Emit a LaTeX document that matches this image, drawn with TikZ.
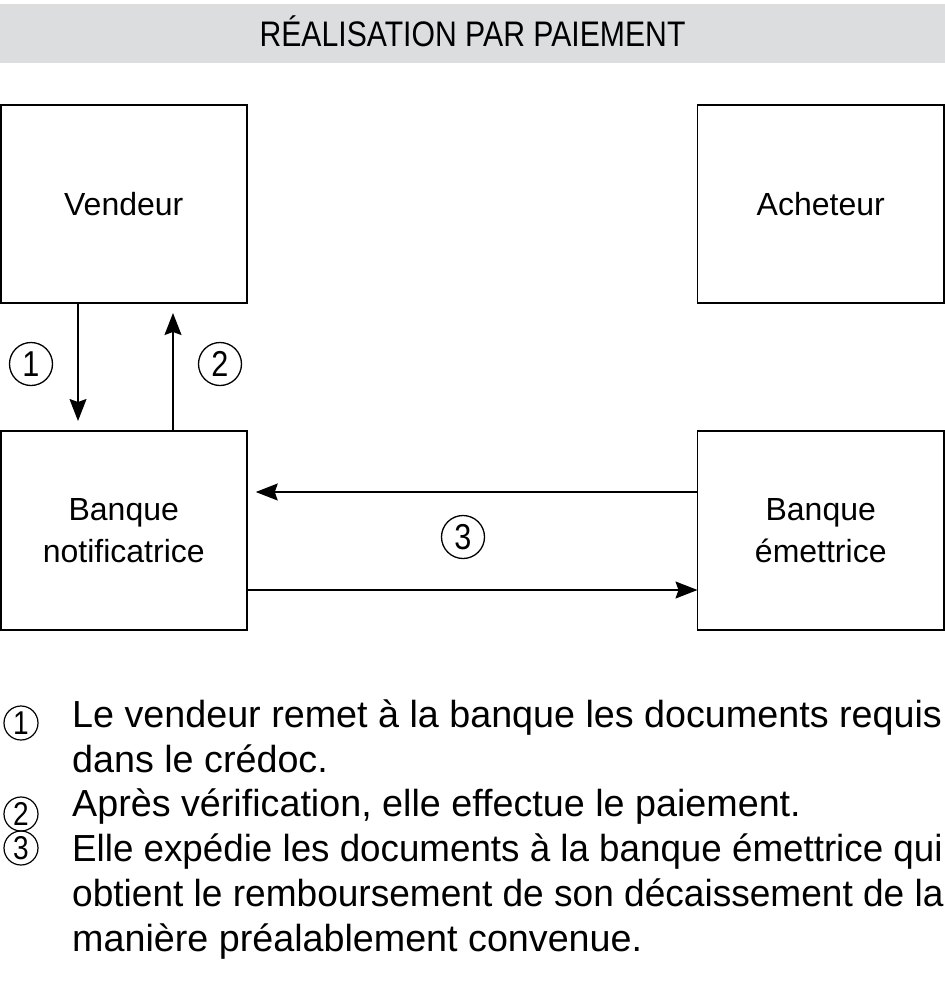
\documentclass[tikz,border=0pt]{standalone}
\usepackage{fontspec}
\setmainfont{Liberation Sans}
\newfontfamily\titlefont[FakeStretch=0.85]{Liberation Sans}
\newfontfamily\legAfont[FakeStretch=0.975]{Liberation Sans}
\newfontfamily\legBfont[FakeStretch=0.983]{Liberation Sans}
\usetikzlibrary{arrows.meta,calc}
\definecolor{bandgray}{HTML}{DCDDDE}
\begin{document}
\begin{tikzpicture}[x=1pt,y=-1pt,
  box/.style={draw, line width=1.5pt, rectangle, outer sep=0pt, inner sep=0pt, align=center, font=\fontsize{32}{42}\selectfont},
  num/.style={draw, circle, line width=1.3pt, minimum size=43pt, inner sep=0pt, font=\titlefont\fontsize{36}{36}\selectfont},
  lnum/.style={draw, circle, line width=1.2pt, minimum size=34pt, inner sep=0pt, font=\titlefont\fontsize{33}{33}\selectfont},
  arr/.style={line width=1.5pt, -{Stealth[length=22pt,width=17pt,inset=3pt]}},
  leg/.style={anchor=base west, inner sep=0pt, font=\fontsize{37.7}{45}\selectfont}]
\useasboundingbox (0,0) rectangle (945,988);
\node[fill=bandgray, minimum width=945pt, minimum height=59pt, inner sep=0pt, outer sep=0pt] (band) at (472.5,33.5) {};
\node[anchor=base, inner sep=0pt, font=\titlefont\fontsize{35.5}{35.5}\selectfont] (title) at (472.5,46) {RÉALISATION PAR PAIEMENT};

\node[box, minimum width=246pt, minimum height=198pt] (vend) at (123.75,204) {Vendeur};
\node[box, minimum width=246.5pt, minimum height=198pt] (ach) at (820.75,204) {Acheteur};
\node[box, minimum width=246pt, minimum height=199pt] (notif) at (123.75,530.5) {Banque\\notificatrice};
\node[box, minimum width=246.5pt, minimum height=199pt] (emet) at (820.75,530.5) {Banque\\émettrice};

\draw[arr, shorten >=10pt] ($(vend.south west)+(77.25,0)$) -- ($(notif.north west)+(77.25,0)$);
\draw[arr, shorten >=10pt] ($(notif.north west)+(172.25,0)$) -- ($(vend.south west)+(172.25,0)$);
\draw[arr, shorten >=9pt] ($(emet.west)+(0,-38.5)$) -- ($(notif.east)+(0,-38.5)$);
\draw[arr] ($(notif.east)+(0,59.5)$) -- ($(emet.west)+(0,59.5)$);

\node[num] (c1) at (31,364) {1};
\node[num] (c2) at (220,364) {2};
\node[num] (c3) at (463,537) {3};

\node[lnum] (l1) at (21,723) {1};
\node[lnum] (l2) at (21,814) {2};
\node[lnum] (l3) at (21,848) {3};

\node[leg] (t1) at (72,727) {Le vendeur remet à la banque les documents requis};
\node[leg] (t2) at (72,772) {dans le crédoc.};
\node[leg] (t3) at (72,816) {Après vérification, elle effectue le paiement.};
\node[leg, font=\legAfont\fontsize{37.7}{45}\selectfont] (t4) at (72,861) {Elle expédie les documents à la banque émettrice qui};
\node[leg, font=\legBfont\fontsize{37.7}{45}\selectfont] (t5) at (72,906) {obtient le remboursement de son décaissement de la};
\node[leg] (t6) at (72,951) {manière préalablement convenue.};
\end{tikzpicture}
\end{document}
